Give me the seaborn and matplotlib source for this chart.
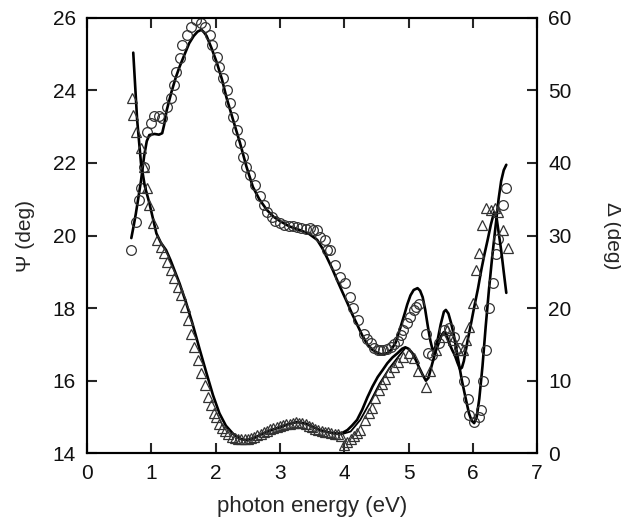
import numpy as np
import pandas as pd
import seaborn as sns
import matplotlib
matplotlib.use("Agg")
import matplotlib.pyplot as plt

# Psi measured (circles, left axis)
psi_x = [0.69, 0.76, 0.81, 0.84, 0.89, 0.94, 1.00, 1.05, 1.12, 1.17, 1.25, 1.31, 1.36, 1.39,
         1.44, 1.48, 1.55, 1.62, 1.70, 1.78, 1.83, 1.91, 1.95, 2.02, 2.06, 2.11, 2.17, 2.22,
         2.27, 2.33, 2.38, 2.42, 2.48, 2.53, 2.61, 2.69, 2.75, 2.80, 2.87, 2.93, 3.00, 3.07,
         3.14, 3.20, 3.26, 3.33, 3.40, 3.47, 3.52, 3.58, 3.62, 3.70, 3.73, 3.78, 3.86, 3.94,
         4.02, 4.09, 4.14, 4.22, 4.30, 4.36, 4.41, 4.47, 4.52, 4.56, 4.61, 4.67, 4.72, 4.78,
         4.83, 4.88, 4.92, 4.98, 5.03, 5.08, 5.11, 5.16, 5.27, 5.30, 5.37, 5.47, 5.55, 5.63,
         5.70, 5.78, 5.86, 5.92, 5.94, 6.02, 6.09, 6.13, 6.16, 6.20, 6.25, 6.31, 6.36, 6.39,
         6.47, 6.52]
psi = [19.6, 20.37, 20.98, 21.3, 21.9, 22.86, 23.1, 23.3, 23.3, 23.24, 23.55, 23.8, 24.15, 24.5,
       24.9, 25.26, 25.53, 25.75, 25.95, 25.86, 25.75, 25.53, 25.26, 24.92, 24.65, 24.34, 24.0, 23.66,
       23.27, 22.9, 22.55, 22.17, 21.9, 21.67, 21.4, 21.1, 20.85, 20.65, 20.5, 20.4, 20.34, 20.3,
       20.27, 20.25, 20.23, 20.2, 20.18, 20.2, 20.15, 20.15, 19.96, 19.87, 19.6, 19.6, 19.19, 18.86,
       18.69, 18.3, 18.0, 17.67, 17.3, 17.15, 17.03, 16.9, 16.84, 16.84, 16.84, 16.88, 16.92, 17.0,
       17.1, 17.25, 17.4, 17.6, 17.75, 17.95, 18.03, 18.1, 17.3, 16.76, 16.7, 17.03, 17.4, 17.45,
       17.2, 16.9, 16.0, 15.5, 15.05, 14.86, 15.0, 15.2, 16.0, 16.84, 18.0, 18.7, 19.5, 19.9,
       20.84, 21.3]

# Delta measured (triangles, right axis)
delta_x = [0.70, 0.72, 0.76, 0.84, 0.89, 0.94, 0.97, 1.03, 1.09, 1.15, 1.20, 1.25, 1.30, 1.36,
           1.41, 1.46, 1.52, 1.57, 1.62, 1.67, 1.72, 1.78, 1.83, 1.88, 1.93, 1.98, 2.00, 2.05,
           2.10, 2.15, 2.20, 2.25, 2.30, 2.35, 2.40, 2.45, 2.50, 2.55, 2.60, 2.65, 2.70, 2.75,
           2.80, 2.85, 2.90, 2.95, 3.00, 3.05, 3.10, 3.15, 3.20, 3.25, 3.30, 3.35, 3.40, 3.45,
           3.50, 3.55, 3.60, 3.65, 3.70, 3.75, 3.80, 3.85, 3.90, 3.95, 4.00, 4.05, 4.10, 4.15,
           4.20, 4.25, 4.33, 4.38, 4.43, 4.48, 4.54, 4.59, 4.64, 4.69, 4.77, 4.84, 4.92, 5.00,
           5.08, 5.14, 5.27, 5.34, 5.42, 5.53, 5.60, 5.69, 5.77, 5.84, 5.89, 5.94, 6.00, 6.05,
           6.10, 6.15, 6.20, 6.28, 6.34, 6.39, 6.47, 6.55]
delta = [49.0, 46.6, 44.3, 42.0, 39.4, 36.5, 34.2, 31.7, 29.4, 28.4, 27.6, 26.3, 25.2, 24.1,
         22.9, 21.8, 20.1, 18.3, 16.5, 14.6, 12.8, 11.0, 9.4, 7.7, 6.6, 5.5, 5.0, 4.0,
         3.5, 3.0, 2.6, 2.3, 2.1, 2.0, 1.9, 1.9, 2.0, 2.1, 2.3, 2.5, 2.7, 2.9,
         3.1, 3.3, 3.5, 3.6, 3.8, 3.9, 4.0, 4.1, 4.2, 4.3, 4.2, 4.2, 4.0, 3.8,
         3.6, 3.4, 3.2, 3.0, 2.9, 2.9, 2.8, 2.7, 2.6, 2.4, 1.2, 1.6, 2.0, 2.4,
         2.8, 3.2, 4.6, 5.5, 6.3, 7.6, 8.7, 9.6, 10.3, 11.2, 11.9, 12.6, 13.2, 13.8,
         13.1, 11.4, 9.1, 11.4, 14.2, 16.0, 17.0, 15.6, 14.2, 14.2, 15.6, 17.4, 20.7, 25.2,
         27.6, 31.4, 33.8, 33.5, 33.8, 33.2, 30.8, 28.3]

# model fits
psi_fit_x = [0.69, 0.73, 0.76, 0.80, 0.84, 0.89, 0.93, 0.97, 1.05, 1.12, 1.17, 1.20, 1.24, 1.31,
             1.38, 1.44, 1.52, 1.59, 1.66, 1.72, 1.78, 1.82, 1.86, 1.94, 2.02, 2.10, 2.17, 2.27,
             2.38, 2.48, 2.58, 2.68, 2.80, 2.90, 3.00, 3.15, 3.31, 3.45, 3.58, 3.66, 3.73, 3.81,
             3.89, 3.97, 4.05, 4.12, 4.20, 4.28, 4.36, 4.44, 4.52, 4.60, 4.67, 4.73, 4.80, 4.88,
             4.94, 4.98, 5.03, 5.08, 5.14, 5.18, 5.22, 5.26, 5.30, 5.34, 5.37, 5.40, 5.45, 5.50,
             5.55, 5.58, 5.62, 5.66, 5.70, 5.77, 5.83, 5.89, 5.94, 5.98, 6.02, 6.06, 6.10, 6.15,
             6.20, 6.25, 6.30, 6.35, 6.40, 6.44, 6.48, 6.52]
psi_fit = [19.93, 20.3, 20.6, 21.05, 21.5, 22.2, 22.6, 22.77, 22.8, 22.78, 22.82, 23.05, 23.45, 23.93,
           24.35, 24.65, 25.0, 25.3, 25.5, 25.62, 25.67, 25.6, 25.5, 25.15, 24.76, 24.3, 23.8, 23.2,
           22.55, 21.9, 21.34, 21.0, 20.7, 20.52, 20.4, 20.25, 20.15, 20.05, 19.88, 19.65, 19.4, 19.1,
           18.77, 18.45, 18.14, 17.85, 17.55, 17.25, 17.0, 16.85, 16.76, 16.72, 16.76, 16.85, 17.05, 17.5,
           17.85, 18.1, 18.35, 18.5, 18.55, 18.48, 18.3, 17.95, 17.5, 17.1, 16.88, 16.85, 17.1, 17.55,
           17.9, 17.95, 17.85, 17.6, 17.3, 16.6, 16.0, 15.5, 15.1, 14.9, 14.83, 15.0, 15.5, 16.4,
           17.5, 18.5, 19.4, 20.2, 21.0, 21.5, 21.8, 21.95]

delta_fit_x = [0.72, 0.78, 0.84, 0.90, 0.97, 1.03, 1.08, 1.15, 1.23, 1.30, 1.37, 1.44, 1.54, 1.64,
               1.75, 1.86, 1.96, 2.06, 2.16, 2.27, 2.38, 2.48, 2.60, 2.73, 2.87, 3.00, 3.13, 3.26,
               3.40, 3.52, 3.62, 3.75, 3.89, 3.97, 4.05, 4.12, 4.20, 4.28, 4.36, 4.44, 4.52, 4.60,
               4.67, 4.75, 4.83, 4.90, 4.95, 5.00, 5.06, 5.11, 5.16, 5.22, 5.27, 5.31, 5.37, 5.42,
               5.47, 5.51, 5.55, 5.59, 5.63, 5.68, 5.72, 5.76, 5.80, 5.83, 5.86, 5.92, 5.97, 6.02,
               6.08, 6.13, 6.18, 6.23, 6.28, 6.33, 6.36, 6.40, 6.44, 6.48, 6.52]
delta_fit = [55.2, 46.0, 40.0, 36.8, 34.5, 32.2, 30.3, 29.0, 28.0, 26.6, 25.0, 23.4, 20.8, 17.9,
             14.4, 11.0, 8.0, 5.5, 3.8, 2.7, 2.0, 1.8, 2.1, 2.7, 3.2, 3.6, 4.0, 4.3,
             4.1, 3.6, 3.2, 2.9, 2.7, 2.8, 3.2, 3.8, 4.6, 6.0, 7.7, 9.2, 10.5, 11.5,
             12.4, 13.2, 13.8, 14.4, 14.6, 14.4, 13.8, 12.9, 11.9, 10.8, 10.0, 10.4, 12.4, 14.0,
             15.2, 16.2, 16.7, 16.3, 15.2, 14.2, 13.5, 12.5, 11.6, 11.8, 12.7, 15.6, 17.8, 20.1,
             22.7, 25.2, 27.4, 29.4, 31.5, 33.2, 33.0, 30.5, 28.0, 25.0, 22.1]

# second fit branch, close to the first one
delta_fit2_x = [3.95, 4.10, 4.25, 4.40, 4.55, 4.70, 4.85, 4.95]
delta_fit2 = [2.6, 3.0, 4.6, 7.0, 9.6, 11.7, 13.4, 14.5]

sns.set_style("ticks")
plt.rcParams["font.family"] = ["Liberation Sans", "DejaVu Sans"]
plt.rcParams["xtick.direction"] = "in"
plt.rcParams["ytick.direction"] = "in"
plt.rcParams["text.color"] = "#111111"

fig = plt.figure(figsize=(6.21, 5.24), dpi=100)
ax = fig.add_axes([0.140, 0.135, 0.725, 0.831])
ax2 = ax.twinx()

sns.lineplot(x=psi_fit_x, y=psi_fit, ax=ax, color="black", lw=1.9, sort=False)
ax.plot(psi_x, psi, ls="none", marker="o", ms=7, mfc="none", mec="#333333", mew=0.9)

sns.lineplot(x=delta_fit_x, y=delta_fit, ax=ax2, color="black", lw=1.9, sort=False)
sns.lineplot(x=delta_fit2_x, y=delta_fit2, ax=ax2, color="black", lw=1.3, sort=False)
ax2.plot(delta_x, delta, ls="none", marker="^", ms=7, mfc="none", mec="#333333", mew=0.9)

ax.set_xlim(0, 7)
ax.set_ylim(14, 26)
ax2.set_ylim(0, 60)
ax.set_xticks(range(0, 8))
ax.set_yticks(range(14, 27, 2))
ax2.set_yticks(range(0, 61, 10))

for a in (ax, ax2):
    for s in a.spines.values():
        s.set_linewidth(1.5)
        s.set_color("black")
ax.tick_params(axis="both", length=7, width=1.5, labelsize=15, top=True, pad=8,
               labelcolor="#111111")
ax.tick_params(axis="y", right=False)
ax2.tick_params(axis="y", length=7, width=1.5, labelsize=15, pad=8, labelcolor="#111111")

ax.set_xlabel("photon energy (eV)", fontsize=16, labelpad=9)
ax.set_ylabel("Ψ (deg)", fontsize=15, labelpad=13)
ax2.set_ylabel("Δ (deg)", fontsize=15, rotation=270, labelpad=36)

fig.savefig("out.png", dpi=100)
